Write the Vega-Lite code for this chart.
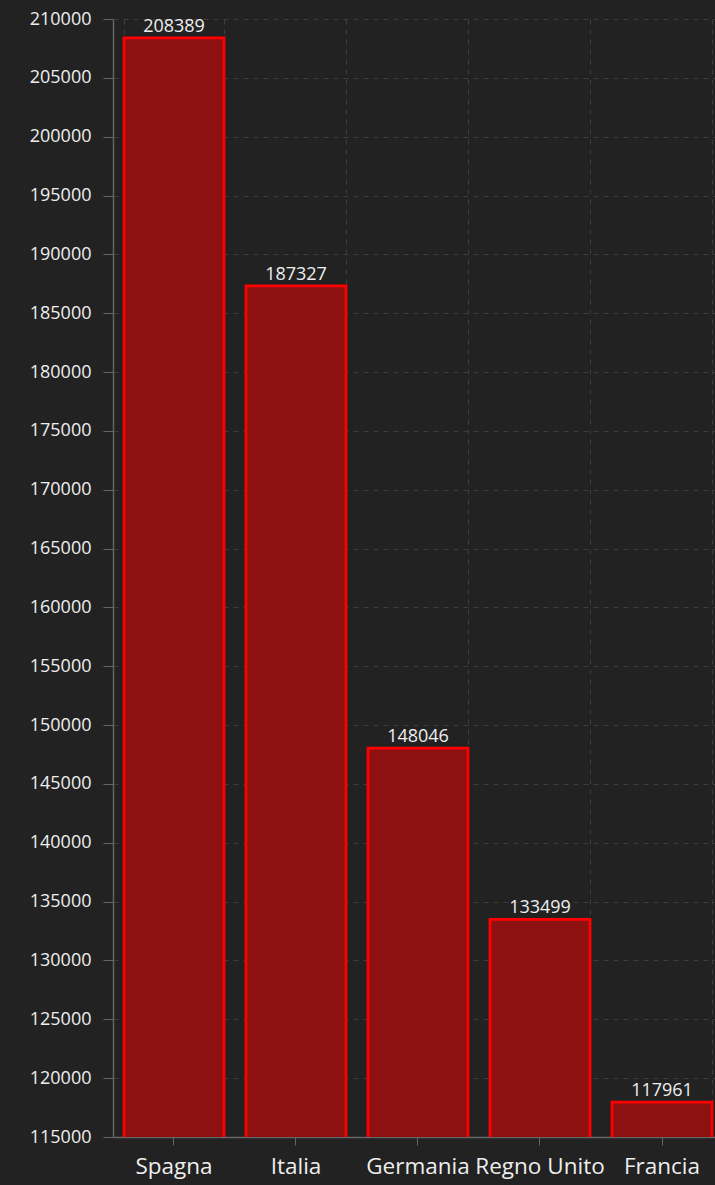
{
  "$schema": "https://vega.github.io/schema/vega-lite/v6.json",
  "width": 610,
  "height": 1118,
  "autosize": {"type": "none"},
  "padding": {"left": 113, "top": 19, "right": -8, "bottom": 48},
  "background": "#222222",
  "config": {
    "view": {"stroke": null},
    "font": "Open Sans",
    "axis": {"labelColor": "#eeeeee", "domainColor": "#666666", "tickColor": "#666666", "gridColor": "#3d3d3d", "gridDash": [5, 5]}
  },
  "data": {"values": [
    {"paese": "Spagna", "valore": 208389},
    {"paese": "Italia", "valore": 187327},
    {"paese": "Germania", "valore": 148046},
    {"paese": "Regno Unito", "valore": 133499},
    {"paese": "Francia", "valore": 117961}
  ]},
  "encoding": {
    "x": {"field": "paese", "type": "nominal", "sort": null,
          "scale": {"paddingInner": 0.18, "paddingOuter": 0.09}},
    "y": {"field": "valore", "type": "quantitative",
          "scale": {"domain": [115000, 210000], "zero": false, "nice": false}}
  },
  "layer": [
    {
      "mark": {"type": "bar", "fill": "#8e1111", "stroke": "#ff0000", "strokeWidth": 2.8, "clip": true},
      "encoding": {
        "x": {"field": "paese", "type": "nominal", "sort": null, "title": null,
              "axis": {"orient": "bottom", "grid": true, "tickBand": "extent", "labels": false, "ticks": false, "domain": false}},
        "y": {"field": "valore", "type": "quantitative", "title": null,
              "axis": {"values": [115000,120000,125000,130000,135000,140000,145000,150000,155000,160000,165000,170000,175000,180000,185000,190000,195000,200000,205000,210000],
                       "format": "d", "grid": true, "labelFontSize": 18, "labelPadding": 12, "tickSize": 10, "domainWidth": 1.5}}
      }
    },
    {
      "mark": {"type": "text", "baseline": "bottom", "dy": -2, "fontSize": 18, "color": "#eeeeee"},
      "encoding": {
        "x": {"field": "paese", "type": "nominal", "sort": null, "title": null,
              "axis": {"orient": "bottom", "grid": false, "labelFontSize": 22.5, "labelPadding": 10, "tickSize": 8, "domainWidth": 1.5, "labelAngle": 0}},
        "text": {"field": "valore", "type": "quantitative", "format": "d"}
      }
    }
  ],
  "resolve": {"axis": {"x": "independent"}}
}
